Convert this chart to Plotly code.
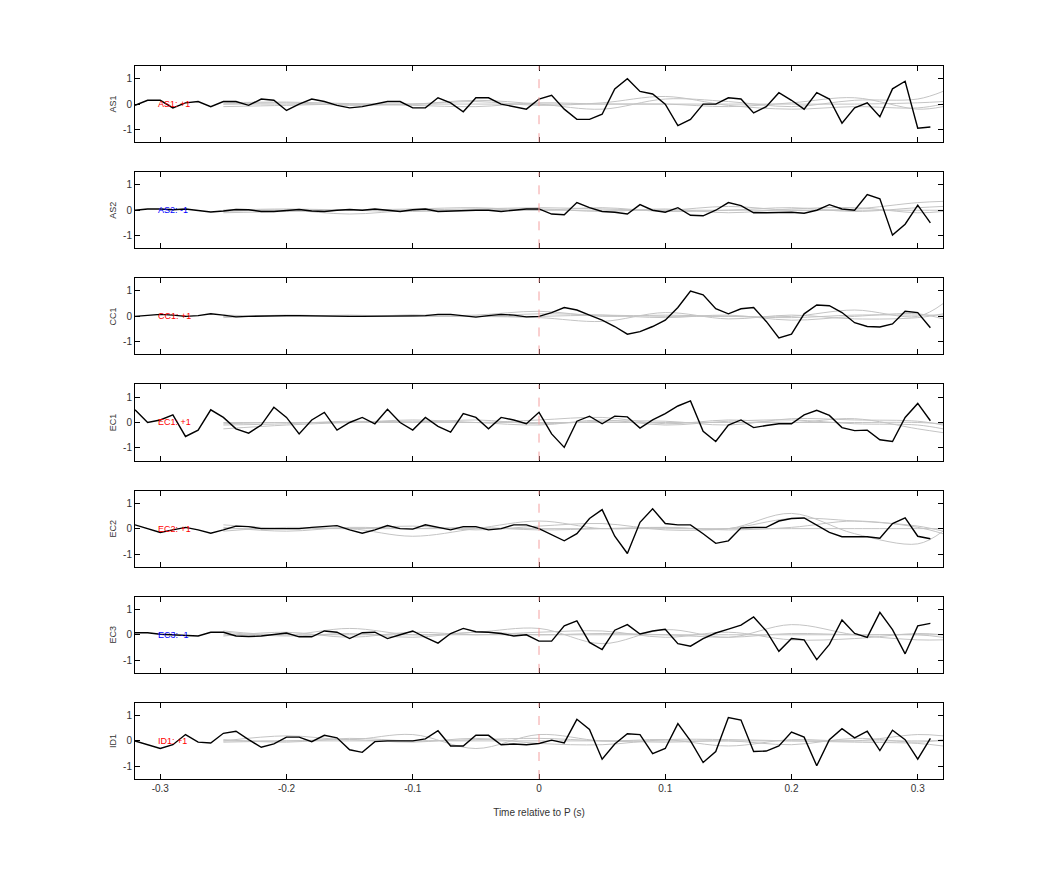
import plotly.graph_objects as go
from plotly.subplots import make_subplots

# time axis: 0.01 s sampling
t = [round(-0.32 + 0.01 * i, 2) for i in range(64)]
t_gray = [-0.25, -0.2, -0.15, -0.1, -0.05, 0.0, 0.05, 0.1, 0.15, 0.2, 0.25, 0.3, 0.32]

stations = ['AS1', 'AS2', 'CC1', 'EC1', 'EC2', 'EC3', 'ID1']
polarity = ['+1', '-1', '+1', '+1', '+1', '-1', '+1']

x_ticks = [-0.3, -0.2, -0.1, 0, 0.1, 0.2, 0.3]
x_ticklabels = ['-0.3', '-0.2', '-0.1', '0', '0.1', '0.2', '0.3']
y_ticks = [-1, 0, 1]
y_ticklabels = ['-1', '0', '1']

as1 = [-0.05, 0.15, 0.15, -0.15, 0.05, 0.1, -0.1, 0.1, 0.1, -0.05, 0.2, 0.15, -0.25, 0, 0.2, 0.1,
       -0.05, -0.15, -0.1, 0, 0.1, 0.1, -0.15, -0.15, 0.25, 0.05, -0.3, 0.25, 0.25, 0, -0.1, -0.2,
       0.2, 0.35, -0.2, -0.6, -0.6, -0.4, 0.6, 1.0, 0.5, 0.4, 0.0, -0.85, -0.6, 0, 0, 0.25,
       0.2, -0.35, -0.1, 0.45, 0.15, -0.2, 0.45, 0.2, -0.75, -0.15, 0.05, -0.5, 0.6, 0.9, -0.95, -0.9]
as2 = [0.0, 0.05, 0.05, 0.02, 0.05, -0.02, -0.07, -0.03, 0.03, 0.02, -0.05, -0.05, 0.0, 0.03, -0.03, -0.05,
       0.0, 0.03, 0.0, 0.05, 0.0, -0.05, 0.02, 0.05, -0.05, -0.03, 0.0, 0.0, 0.0, -0.05, 0.0, 0.05,
       0.05, -0.15, -0.18, 0.3, 0.1, -0.05, -0.08, -0.15, 0.22, 0.0, -0.08, 0.1, -0.2, -0.22, 0.0, 0.3,
       0.18, -0.1, -0.1, -0.08, -0.08, -0.12, 0.0, 0.22, 0.05, 0.0, 0.62, 0.45, -0.98, -0.55, 0.2, -0.5]
cc1 = [0.0, 0.03, 0.08, 0.05, 0.0, 0.03, 0.1, 0.05, -0.02, 0.0, 0.02, 0.02, 0.03, 0.03, 0.02, 0.0,
       0.0, 0.0, 0.0, 0.0, 0.02, 0.02, 0.02, 0.03, 0.08, 0.08, 0.03, -0.03, 0.03, 0.08, 0.05, -0.02,
       0.0, 0.15, 0.35, 0.25, 0.05, -0.15, -0.4, -0.7, -0.6, -0.4, -0.15, 0.35, 1.0, 0.85, 0.3, 0.1,
       0.3, 0.35, -0.2, -0.85, -0.7, 0.1, 0.45, 0.42, 0.15, -0.25, -0.4, -0.42, -0.3, 0.2, 0.15, -0.45]
ec1 = [0.5, 0.0, 0.1, 0.3, -0.55, -0.3, 0.5, 0.2, -0.25, -0.42, -0.1, 0.6, 0.2, -0.45, 0.1, 0.4,
       -0.3, 0.0, 0.2, -0.05, 0.52, 0.0, -0.3, 0.2, -0.15, -0.38, 0.35, 0.2, -0.25, 0.2, 0.1, -0.05,
       0.4, -0.45, -0.98, 0.05, 0.25, -0.05, 0.25, 0.22, -0.22, 0.1, 0.35, 0.65, 0.85, -0.35, -0.75, -0.1,
       0.1, -0.2, -0.12, -0.05, -0.05, 0.3, 0.48, 0.28, -0.2, -0.32, -0.3, -0.68, -0.75, 0.2, 0.75, 0.07]
ec2 = [0.15, 0.0, -0.15, -0.05, 0.05, -0.05, -0.18, -0.05, 0.1, 0.08, 0.0, 0.0, 0.0, 0.0, 0.05, 0.08,
       0.12, -0.05, -0.18, -0.05, 0.12, 0.0, -0.02, 0.15, 0.05, -0.05, 0.08, 0.08, -0.05, 0.0, 0.15, 0.15,
       0.0, -0.25, -0.48, -0.2, 0.4, 0.75, -0.3, -0.98, 0.25, 0.78, 0.2, 0.15, 0.15, -0.2, -0.58, -0.48,
       0.03, 0.05, 0.05, 0.3, 0.4, 0.42, 0.15, -0.15, -0.32, -0.32, -0.32, -0.38, 0.2, 0.42, -0.3, -0.4]
ec3 = [0.08, 0.08, 0.02, 0.0, -0.03, -0.05, 0.1, 0.1, -0.05, -0.07, -0.05, 0.0, 0.07, -0.08, -0.08, 0.15,
       0.1, -0.15, 0.08, 0.1, -0.15, 0.0, 0.15, -0.1, -0.33, 0.05, 0.25, 0.12, 0.1, 0.05, -0.05, 0.0,
       -0.25, -0.25, 0.35, 0.55, -0.3, -0.58, 0.18, 0.4, 0.03, 0.15, 0.22, -0.35, -0.45, -0.15, 0.07, 0.22,
       0.38, 0.7, 0.15, -0.65, -0.15, -0.2, -0.98, -0.38, 0.58, 0.05, -0.1, 0.88, 0.2, -0.75, 0.35, 0.45]
id1 = [0.0, -0.15, -0.3, -0.15, 0.25, -0.05, -0.08, 0.3, 0.38, 0.05, -0.25, -0.12, 0.15, 0.15, -0.03, 0.22,
       0.12, -0.35, -0.45, -0.03, 0.0, 0.0, 0.0, 0.08, 0.4, -0.2, -0.2, 0.22, 0.22, -0.15, -0.12, -0.15,
       -0.1, 0.03, -0.08, 0.85, 0.45, -0.72, -0.12, 0.28, 0.25, -0.5, -0.3, 0.68, 0.0, -0.85, -0.42, 0.92,
       0.82, -0.42, -0.4, -0.2, 0.35, 0.15, -0.98, 0.05, 0.48, 0.12, 0.38, -0.38, 0.42, 0.05, -0.72, 0.1]
traces = [as1, as2, cc1, ec1, ec2, ec3, id1]

# smooth grey comparison traces, 4 per station
gray = {
    'AS1': [[0.05, 0.08, 0.02, 0.0, 0.15, 0.0, -0.2, 0.2, 0.1, -0.1, 0.15, 0.2, 0.5],
            [-0.1, -0.05, 0.0, -0.05, -0.1, 0.05, 0.0, 0.0, -0.1, 0.05, 0.25, -0.2, -0.1],
            [0.0, 0.0, 0.0, 0.0, 0.0, 0.0, 0.0, 0.0, 0.0, 0.0, 0.0, 0.05, 0.1],
            [0.0, 0.05, -0.05, 0.0, 0.1, -0.05, 0.05, 0.3, -0.05, -0.2, -0.1, -0.15, 0.0]],
    'AS2': [[-0.05, 0.0, -0.15, 0.0, 0.05, 0.1, 0.05, 0.0, 0.15, 0.0, 0.05, 0.3, 0.35],
            [0.0, 0.05, 0.0, -0.05, 0.0, 0.05, -0.05, 0.05, -0.1, 0.05, 0.1, -0.1, -0.05],
            [-0.1, -0.05, 0.0, 0.05, 0.1, 0.0, 0.1, -0.05, 0.0, 0.1, -0.05, 0.1, 0.15],
            [0.0, 0.0, 0.0, 0.0, 0.0, 0.0, 0.0, 0.0, 0.0, 0.0, 0.0, 0.0, 0.0]],
    'CC1': [[0.0, 0.0, 0.05, 0.0, 0.05, 0.2, 0.0, 0.05, 0.0, 0.0, 0.25, 0.0, 0.5],
            [-0.05, 0.05, 0.0, 0.05, 0.0, -0.05, -0.2, 0.15, -0.1, 0.05, -0.1, -0.05, 0.1],
            [0.0, 0.0, 0.0, 0.0, 0.0, 0.0, 0.05, 0.0, 0.0, -0.05, 0.05, 0.05, 0.05],
            [0.05, 0.0, 0.0, 0.05, 0.0, 0.1, 0.05, -0.05, 0.05, -0.15, 0.0, 0.1, -0.1]],
    'EC1': [[-0.25, -0.1, 0.0, 0.05, 0.0, 0.1, 0.2, -0.05, 0.1, 0.0, 0.15, -0.25, -0.4],
            [-0.1, -0.05, 0.05, 0.0, 0.1, -0.05, 0.05, 0.05, -0.1, 0.15, 0.1, 0.05, -0.1],
            [0.0, 0.0, 0.0, 0.0, 0.0, 0.0, 0.0, 0.0, 0.0, 0.0, 0.0, 0.0, -0.05],
            [-0.05, 0.0, 0.0, 0.1, 0.0, -0.1, 0.1, -0.1, 0.05, 0.1, -0.05, -0.1, -0.25]],
    'EC2': [[0.15, 0.0, 0.0, -0.3, 0.0, 0.3, 0.0, 0.05, 0.0, 0.6, -0.2, -0.6, -0.1],
            [-0.1, 0.05, 0.0, 0.1, -0.05, 0.1, 0.2, -0.05, 0.0, 0.4, 0.3, 0.1, -0.1],
            [0.0, 0.0, 0.0, 0.0, 0.0, 0.0, 0.0, 0.0, 0.0, 0.0, 0.0, 0.0, 0.0],
            [0.05, -0.1, 0.05, 0.0, 0.05, -0.05, 0.0, 0.05, -0.05, 0.05, 0.3, 0.05, -0.2]],
    'EC3': [[0.15, 0.0, 0.25, 0.0, 0.1, 0.25, -0.35, 0.2, -0.1, 0.4, 0.0, -0.2, -0.2],
            [-0.05, 0.1, -0.1, 0.1, 0.0, 0.1, 0.15, -0.1, 0.1, -0.2, -0.15, 0.05, 0.0],
            [0.0, 0.0, 0.0, 0.0, 0.0, 0.0, 0.0, 0.0, 0.0, 0.0, 0.0, 0.0, 0.0],
            [0.1, -0.05, 0.05, -0.1, 0.1, 0.0, 0.05, 0.0, -0.1, 0.05, 0.0, 0.0, -0.1]],
    'ID1': [[0.0, 0.2, 0.05, 0.25, -0.3, 0.25, 0.0, 0.05, -0.2, 0.05, 0.0, 0.25, 0.2],
            [-0.05, 0.0, 0.05, -0.05, 0.1, -0.1, -0.15, 0.05, 0.05, 0.0, -0.05, -0.1, -0.2],
            [0.0, 0.0, 0.0, 0.0, 0.0, 0.0, 0.0, 0.0, 0.0, 0.0, 0.0, 0.0, 0.0],
            [0.05, -0.05, 0.1, 0.0, 0.05, 0.1, 0.0, -0.05, 0.0, -0.15, 0.1, -0.05, 0.05]],
}

n = len(stations)
fig = make_subplots(rows=n, cols=1, shared_xaxes=False, vertical_spacing=0.042)

font = dict(family='Liberation Sans, Arial, sans-serif', size=10, color='#333333')

for i, st in enumerate(stations):
    row = i + 1
    for g in gray[st]:
        fig.add_trace(go.Scatter(x=t_gray, y=g, mode='lines', line=dict(color='#c4c4c4', width=1, shape='spline'),
                                 showlegend=False, hoverinfo='skip'), row=row, col=1)
    fig.add_trace(go.Scatter(x=t, y=traces[i], mode='lines', line=dict(color='black', width=1.4),
                             showlegend=False), row=row, col=1)
    xref = 'x' if row == 1 else 'x%d' % row
    yref = 'y' if row == 1 else 'y%d' % row
    fig.add_shape(type='line', x0=0, x1=0, y0=-1.5, y1=1.5, xref=xref, yref=yref,
                  line=dict(color='#f4a0a0', width=1, dash='dash'))
    col = 'red' if polarity[i] == '+1' else 'blue'
    fig.add_annotation(x=-0.303, y=0, xref=xref, yref=yref, text=st + ': ' + polarity[i],
                       showarrow=False, xanchor='left', font=dict(family=font['family'], size=9, color=col))
    fig.update_yaxes(range=[-1.5, 1.5], tickvals=y_ticks, ticktext=y_ticklabels, title_text=st,
                     title_standoff=4, title_font=dict(size=9), row=row, col=1)
    fig.update_xaxes(range=[-0.32, 0.32], tickvals=x_ticks, ticktext=x_ticklabels,
                     showticklabels=(row == n), row=row, col=1)

fig.update_xaxes(showline=True, linecolor='black', linewidth=1, mirror='ticks', ticks='inside',
                 ticklen=5, tickcolor='black', showgrid=False, zeroline=False, tickfont=font)
fig.update_yaxes(showline=True, linecolor='black', linewidth=1, mirror='ticks', ticks='inside',
                 ticklen=5, tickcolor='black', showgrid=False, zeroline=False, tickfont=font)
fig.update_xaxes(title_text='Time relative to P (s)', title_font=font, row=n, col=1)

fig.update_layout(width=1042, height=875, margin=dict(l=127, r=107, t=58, b=104),
                  plot_bgcolor='white', paper_bgcolor='white', font=font)

fig.write_html("out.html")
